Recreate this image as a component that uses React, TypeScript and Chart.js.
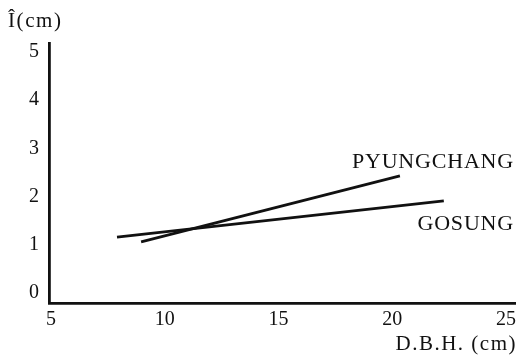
import React, { useEffect, useRef } from "react";
import { Chart, registerables } from "chart.js";

Chart.register(...registerables);

// Data (D.B.H. in cm vs. Î in cm)
const gosungX = [7.9, 22.27];
const gosungY = [1.16, 1.91];
const pyungchangX = [8.96, 20.34];
const pyungchangY = [1.06, 2.43];

const seriesNames = ["PYUNGCHANG", "GOSUNG"];
const xTicks = [5, 10, 15, 20, 25];
const yTicks = [0, 1, 2, 3, 4, 5];
const yTitle = "Î(cm)";
const xTitle = "D.B.H. (cm)";

// where the series names sit (data coordinates: right edge, baseline)
const nameAnchors = [
  { x: 25.31, y: 2.59 },
  { x: 25.31, y: 1.31 },
];

const FONT = "'Liberation Serif', 'DejaVu Serif', serif";

export default function App() {
  const ref = useRef<HTMLCanvasElement | null>(null);

  useEffect(() => {
    if (!ref.current) return;
    const labelPlugin = {
      id: "labels",
      afterDraw(chart: any) {
        const { ctx } = chart;
        const xs = chart.scales.x;
        const ys = chart.scales.y;
        ctx.save();
        ctx.fillStyle = "#111";
        ctx.textBaseline = "alphabetic";
        ctx.font = `22px ${FONT}`;
        (ctx as any).letterSpacing = "0.8px";
        ctx.textAlign = "right";
        nameAnchors.forEach((a, i) => {
          ctx.fillText(seriesNames[i], xs.getPixelForValue(a.x) + 1, ys.getPixelForValue(a.y));
        });
        // axis titles
        ctx.font = `21px ${FONT}`;
        (ctx as any).letterSpacing = "1.6px";
        ctx.textAlign = "left";
        ctx.fillText(yTitle, 8, 27);
        (ctx as any).letterSpacing = "1.5px";
        ctx.textAlign = "right";
        ctx.fillText(xTitle, 517, 350);
        ctx.restore();
      },
    };

    const chart = new Chart(ref.current, {
      type: "scatter",
      data: {
        datasets: [
          {
            label: seriesNames[0],
            data: pyungchangX.map((x, i) => ({ x, y: pyungchangY[i] })),
            showLine: true,
            borderColor: "#111",
            borderWidth: 2.8,
            pointRadius: 0,
          },
          {
            label: seriesNames[1],
            data: gosungX.map((x, i) => ({ x, y: gosungY[i] })),
            showLine: true,
            borderColor: "#111",
            borderWidth: 2.8,
            pointRadius: 0,
          },
        ],
      },
      options: {
        animation: false,
        responsive: false,
        layout: { padding: { left: 0, top: 43, right: 8, bottom: 0 } },
        plugins: { legend: { display: false }, tooltip: { enabled: false } },
        scales: {
          x: {
            type: "linear",
            min: 4.91,
            max: 25.4,
            afterBuildTicks: (s: any) => {
              s.ticks = xTicks.map((v) => ({ value: v }));
            },
            afterFit: (s: any) => {
              s.height = 58;
            },
            grid: { display: false, drawTicks: false },
            border: { display: true, color: "#111", width: 2.8 },
            ticks: {
              color: "#111",
              padding: 5,
              maxRotation: 0,
              font: { family: FONT, size: 20 },
            },
          },
          y: {
            type: "linear",
            min: -0.207,
            max: 5.187,
            afterBuildTicks: (s: any) => {
              s.ticks = yTicks.map((v) => ({ value: v }));
            },
            afterFit: (s: any) => {
              s.width = 49;
            },
            grid: { display: false, drawTicks: false },
            border: { display: true, color: "#111", width: 2.8 },
            ticks: {
              color: "#111",
              padding: 10,
              font: { family: FONT, size: 20 },
            },
          },
        },
      },
      plugins: [labelPlugin],
    });
    return () => chart.destroy();
  }, []);

  return (
    <div style={{ position: "fixed", left: 0, top: 0, width: 523, height: 361, background: "#fff" }}>
      <canvas ref={ref} width={523} height={361} style={{ width: 523, height: 361 }} />
    </div>
  );
}
